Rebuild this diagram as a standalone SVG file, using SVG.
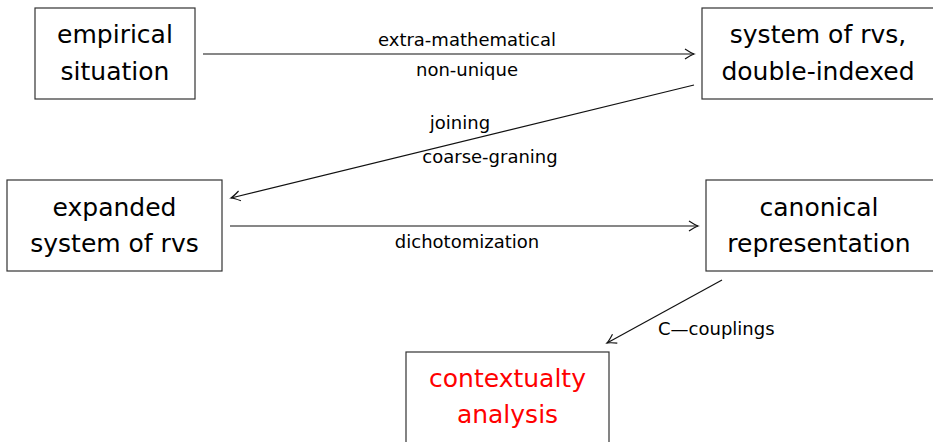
<svg xmlns="http://www.w3.org/2000/svg" width="933" height="442" viewBox="0 0 933 442">
<style>
.box{fill:#fff;stroke:#333;stroke-width:1.2}
.nt{font-family:"DejaVu Sans",sans-serif;font-size:25px;fill:#000;text-anchor:middle}
.red{fill:#ff0000}
.lb{font-family:"DejaVu Sans",sans-serif;font-size:18px;fill:#000}
.c{text-anchor:middle}
.edge{fill:none;stroke:#111;stroke-width:1.2;marker-end:url(#arr)}
</style>
<defs>
<marker id="arr" markerUnits="userSpaceOnUse" viewBox="-12 -7 14 14" markerWidth="14" markerHeight="14" refX="0" refY="0" orient="auto">
<path d="M-9,-5 Q-3,-1 0,0 Q-3,1 -9,5" fill="none" stroke="#111" stroke-width="1.2"/>
</marker>
</defs>
<rect width="933" height="442" fill="#fff"/>
<g id="connectors">
<line class="edge" x1="203" y1="54" x2="694" y2="54"/>
<line class="edge" x1="694" y1="85" x2="231" y2="198"/>
<line class="edge" x1="230" y1="226" x2="698" y2="226"/>
<line class="edge" x1="722" y1="280" x2="607" y2="343"/>
<text class="lb c" x="467" y="46">extra-mathematical</text>
<text class="lb c" x="467" y="76">non-unique</text>
<text class="lb c" x="460" y="129">joining</text>
<text class="lb c" x="490" y="163">coarse-graning</text>
<text class="lb c" x="467" y="248">dichotomization</text>
<text class="lb" x="658" y="335">C—couplings</text>
</g>
<g id="empirical">
<rect class="box" x="35" y="8" width="160" height="91"/>
<text class="nt" x="115" y="43">empirical</text>
<text class="nt" x="115" y="80">situation</text>
</g>
<g id="system">
<rect class="box" x="702" y="8" width="240" height="91"/>
<text class="nt" x="818" y="43">system of rvs,</text>
<text class="nt" x="818" y="80">double-indexed</text>
</g>
<g id="expanded">
<rect class="box" x="7" y="180" width="215" height="91"/>
<text class="nt" x="114.5" y="216">expanded</text>
<text class="nt" x="114.5" y="252">system of rvs</text>
</g>
<g id="canonical">
<rect class="box" x="706" y="180" width="240" height="91"/>
<text class="nt" x="819" y="216">canonical</text>
<text class="nt" x="819" y="252">representation</text>
</g>
<g id="contextuality">
<rect class="box" x="406" y="352" width="203" height="100"/>
<text class="nt red" x="507.5" y="387">contextualty</text>
<text class="nt red" x="507.5" y="423">analysis</text>
</g>
</svg>
